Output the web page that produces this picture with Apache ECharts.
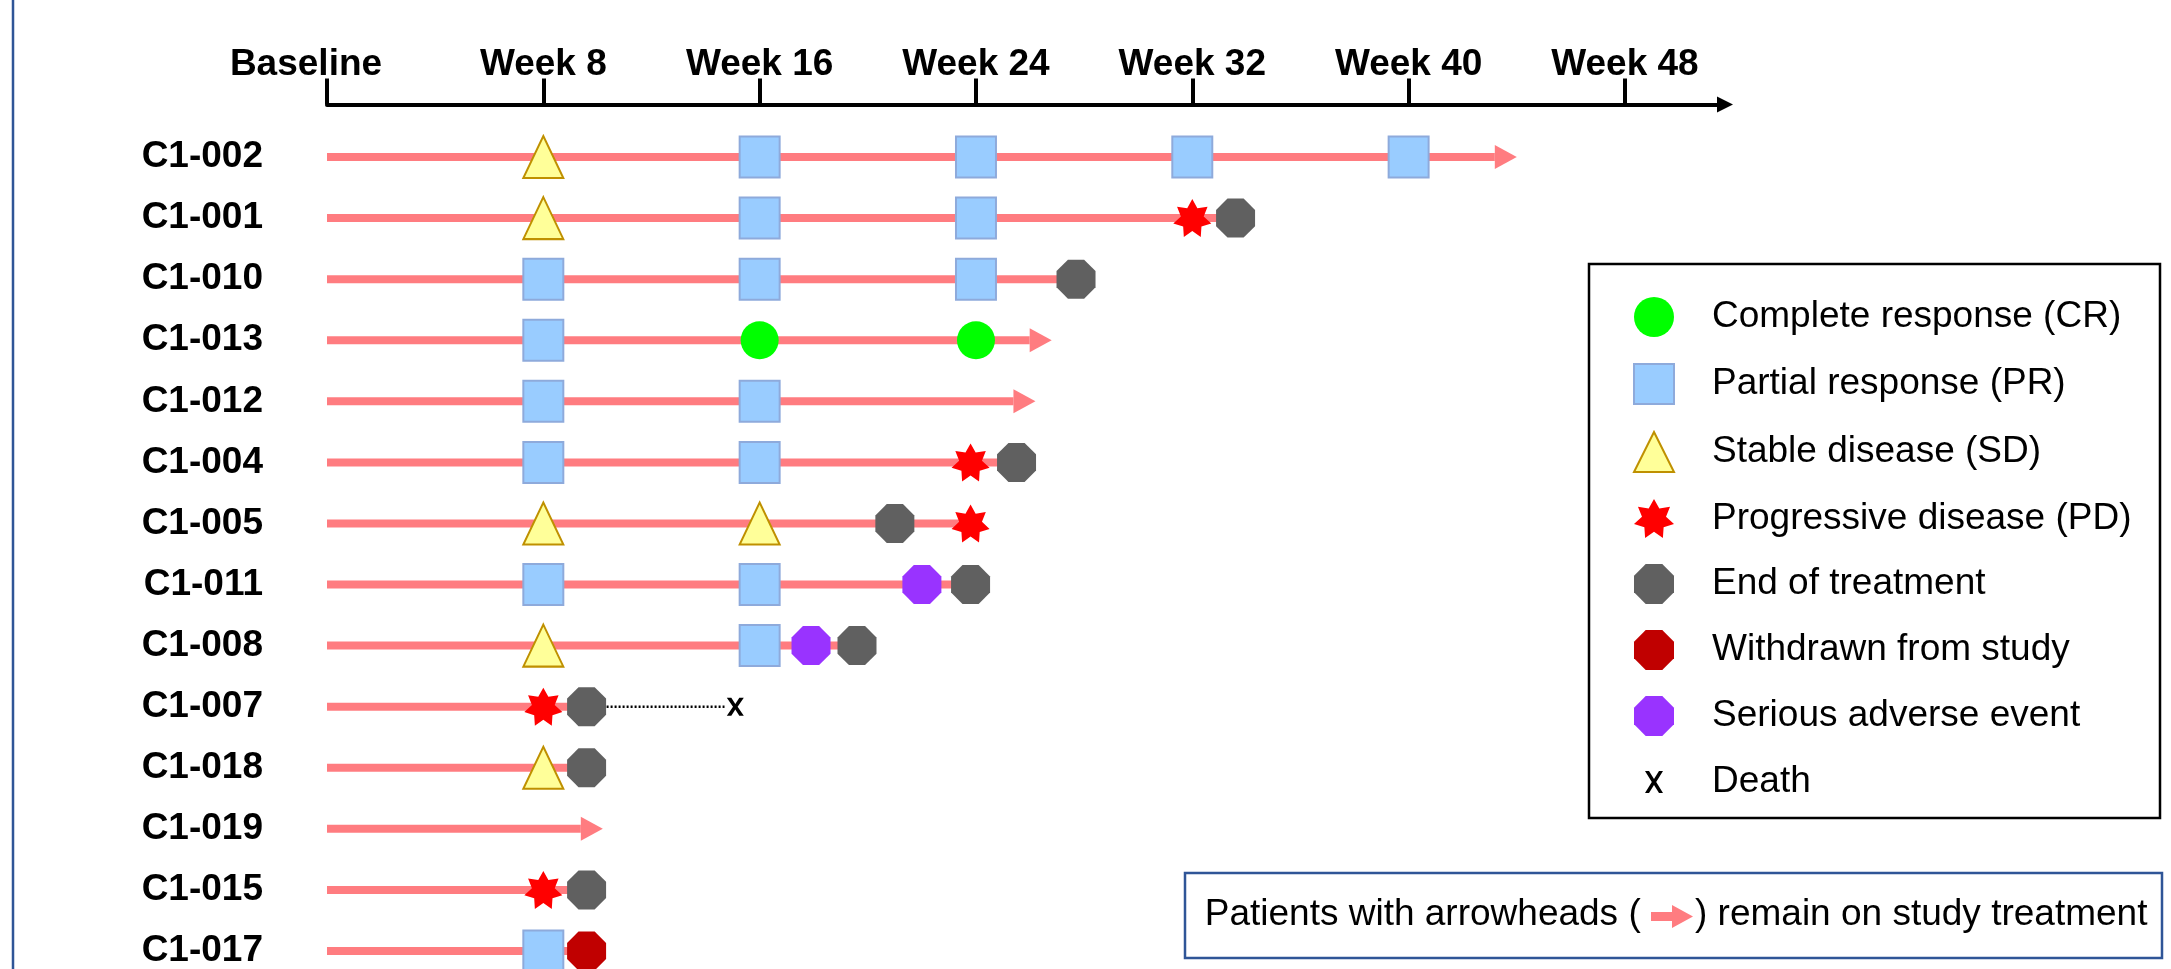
<!DOCTYPE html>
<html>
<head>
<meta charset="utf-8">
<script src="https://cdn.jsdelivr.net/npm/echarts@6/dist/echarts.min.js"></script>
<style>
  html, body { margin: 0; padding: 0; background: #fff; }
  #chart { width: 2171px; height: 969px; }
</style>
</head>
<body>
<div id="chart"></div>
<script>
// patients, top to bottom
const patients = ['C1-002', 'C1-001', 'C1-010', 'C1-013', 'C1-012', 'C1-004', 'C1-005',
  'C1-011', 'C1-008', 'C1-007', 'C1-018', 'C1-019', 'C1-015', 'C1-017'];
const weekTicks = [0, 8, 16, 24, 32, 40, 48];
const tickLabels = ['Baseline', 'Week 8', 'Week 16', 'Week 24', 'Week 32', 'Week 40', 'Week 48'];

// week where the treatment bar stops (arrow tip for ongoing patients)
const treatmentEnd = [44, 33.6, 27.7, 26.8, 26.2, 25.5, 23.8, 23.8, 19.6, 9.6, 9.6, 10.2, 9.6, 9.6];
const stillOnTreatment = [1, 0, 0, 1, 1, 0, 0, 0, 0, 0, 0, 1, 0, 0];

// events: [week, patient]
const completeResponse = [[16, 'C1-013'], [24, 'C1-013']];
const partialResponse = [
  [16, 'C1-002'], [24, 'C1-002'], [32, 'C1-002'], [40, 'C1-002'],
  [16, 'C1-001'], [24, 'C1-001'],
  [8, 'C1-010'], [16, 'C1-010'], [24, 'C1-010'],
  [8, 'C1-013'],
  [8, 'C1-012'], [16, 'C1-012'],
  [8, 'C1-004'], [16, 'C1-004'],
  [8, 'C1-011'], [16, 'C1-011'],
  [16, 'C1-008'],
  [8, 'C1-017']
];
const stableDisease = [[8, 'C1-002'], [8, 'C1-001'], [8, 'C1-005'], [16, 'C1-005'], [8, 'C1-008'], [8, 'C1-018']];
const progressiveDisease = [[32, 'C1-001'], [23.8, 'C1-004'], [23.8, 'C1-005'], [8, 'C1-007'], [8, 'C1-015']];
const endOfTreatment = [[33.6, 'C1-001'], [27.7, 'C1-010'], [25.5, 'C1-004'], [21, 'C1-005'], [23.8, 'C1-011'],
  [19.6, 'C1-008'], [9.6, 'C1-007'], [9.6, 'C1-018'], [9.6, 'C1-015']];
const withdrawn = [[9.6, 'C1-017']];
const seriousAdverseEvent = [[22, 'C1-011'], [17.9, 'C1-008']];
const death = [[15.1, 'C1-007']];
const deathFollowUp = [[9.6, 'C1-007'], [14.7, 'C1-007']];

const PINK = '#ff7c80';
const FONT = '"Liberation Sans", Arial, sans-serif';

function polyPath(n, inner, startAngle) {
  let d = '';
  const steps = inner ? n * 2 : n;
  for (let k = 0; k < steps; k++) {
    const r = inner && k % 2 ? inner : 1;
    const a = startAngle + k * 2 * Math.PI / steps;
    d += (k ? 'L' : 'M') + (r * Math.cos(a)).toFixed(4) + ',' + (r * Math.sin(a)).toFixed(4);
  }
  return 'path://' + d + 'Z';
}
const starSymbol = polyPath(7, 0.6, -Math.PI / 2);
const octagonSymbol = polyPath(8, 0, Math.PI / 8);
const crossSymbol = 'path://M0,0L4.5,0L8.5,6.3L12.5,0L17,0L10.8,9L17,18L12.5,18L8.5,11.7L4.5,18L0,18L6.2,9Z';
const crossLegendIcon = 'path://M0,0L0.01,0L0,0.01Z M40,40L39.99,40L40,39.99Z' +
  'M11,9L15,9L20,17L25,9L29,9L22.2,20L29,31L25,31L20,23L15,31L11,31L17.8,20Z';

const barData = patients.map((p, i) => [treatmentEnd[i], i, stillOnTreatment[i]]);

function renderTreatment(params, api) {
  const row = api.value(1);
  const start = api.coord([0, row]);
  const end = api.coord([api.value(0), row]);
  const head = api.value(2) ? 22 : 0;
  const children = [{
    type: 'rect',
    shape: { x: start[0], y: start[1] - 4, width: end[0] - head - start[0], height: 8 },
    style: { fill: PINK }
  }];
  if (head) {
    children.push({
      type: 'polygon',
      shape: { points: [[end[0] - head, end[1] - 12], [end[0], end[1]], [end[0] - head, end[1] + 12]] },
      style: { fill: PINK }
    });
  }
  return { type: 'group', children: children };
}

function events(name, data, symbol, size, style) {
  return {
    name: name, type: 'scatter', data: data, symbol: symbol, symbolSize: size,
    itemStyle: Object.assign({ opacity: 1 }, style), z: 5, silent: true
  };
}

const chart = echarts.init(document.getElementById('chart'), null, { renderer: 'canvas' });
chart.setOption({
  animation: false,
  backgroundColor: '#fff',
  grid: { left: 327, right: 446, top: 126.5, height: 855, containLabel: false, outerBoundsMode: 'none' },
  xAxis: {
    type: 'value', position: 'top', min: 0, max: 51.7, offset: 22,
    axisLine: { show: true, onZero: false, symbol: ['none', 'triangle'], symbolSize: [16, 16],
      lineStyle: { color: '#000', width: 4 } },
    axisTick: { show: true, length: 26, customValues: weekTicks, lineStyle: { color: '#000', width: 4 } },
    axisLabel: {
      customValues: weekTicks, margin: 21, color: '#000', fontSize: 37, fontWeight: 'bold', fontFamily: FONT,
      formatter: function (v) {
        const label = tickLabels[weekTicks.indexOf(v)];
        return v === 0 ? '{b|' + label + '}' : label;
      },
      rich: { b: { fontSize: 37, fontWeight: 'bold', fontFamily: FONT, color: '#000', padding: [0, 42, 0, 0] } }
    },
    splitLine: { show: false }
  },
  yAxis: {
    type: 'category', data: patients, inverse: true,
    axisLine: { show: false }, axisTick: { show: false }, splitLine: { show: false },
    axisLabel: { margin: 64, color: '#000', fontSize: 37, fontWeight: 'bold', fontFamily: FONT, padding: [6, 0, 0, 0] }
  },
  legend: {
    orient: 'vertical', left: 1628, top: 292, itemWidth: 40, itemHeight: 40, itemGap: 26,
    selectedMode: false,
    itemStyle: { borderWidth: 'inherit' },
    formatter: '{t|{name}}',
    textStyle: {
      color: '#000', fontSize: 37, fontFamily: FONT,
      rich: { t: { color: '#000', fontSize: 37, fontFamily: FONT, lineHeight: 40, padding: [0, 0, 0, 33] } }
    },
    data: ['Complete response (CR)', 'Partial response (PR)', 'Stable disease (SD)', 'Progressive disease (PD)',
      'End of treatment', 'Withdrawn from study', 'Serious adverse event',
      { name: 'Death', icon: crossLegendIcon }]
  },
  graphic: [
    { type: 'rect', shape: { x: 13, y: -5, width: 0, height: 980 }, style: { stroke: '#2f5597', lineWidth: 2.5, fill: 'none' } },
    { type: 'rect', shape: { x: 1589, y: 264, width: 571, height: 554 }, style: { stroke: '#000', lineWidth: 2.5, fill: 'none' } },
    { type: 'rect', shape: { x: 1185, y: 873, width: 977, height: 85 }, style: { stroke: '#2f5597', lineWidth: 2.5, fill: 'none' } },
    { type: 'text', x: 1651, y: 915, style: { text: 'Patients with arrowheads ( ', fill: '#000', fontSize: 37, fontFamily: FONT, align: 'right', verticalAlign: 'middle' } },
    { type: 'polygon', shape: { points: [[1651, 912], [1672, 912], [1672, 905], [1693, 916.5], [1672, 928], [1672, 921], [1651, 921]] }, style: { fill: PINK } },
    { type: 'text', x: 1695, y: 915, style: { text: ') remain on study treatment', fill: '#000', fontSize: 37, fontFamily: FONT, align: 'left', verticalAlign: 'middle' } }
  ],
  series: [
    { name: 'treatment', type: 'custom', renderItem: renderTreatment, data: barData, z: 1, silent: true,
      encode: { x: 0, y: 1 } },
    { name: 'follow-up', type: 'line', data: deathFollowUp, symbol: 'none', z: 2, silent: true,
      lineStyle: { color: '#000', width: 2.5, type: [2, 2] } },
    events('Complete response (CR)', completeResponse, 'circle', 38, { color: '#00ff00' }),
    events('Partial response (PR)', partialResponse, 'rect', [40, 41], { color: '#99ccff', borderColor: '#8eaadb', borderWidth: 2 }),
    events('Stable disease (SD)', stableDisease, 'triangle', [40, 42], { color: '#ffff99', borderColor: '#bf9000', borderWidth: 2 }),
    events('Progressive disease (PD)', progressiveDisease, starSymbol, 38, { color: '#ff0000' }),
    events('End of treatment', endOfTreatment, octagonSymbol, 39, { color: '#606060' }),
    events('Withdrawn from study', withdrawn, octagonSymbol, 39, { color: '#c00000' }),
    events('Serious adverse event', seriousAdverseEvent, octagonSymbol, 39, { color: '#9933ff' }),
    events('Death', death, crossSymbol, [17, 18], { color: '#000' })
  ]
});
</script>
</body>
</html>
